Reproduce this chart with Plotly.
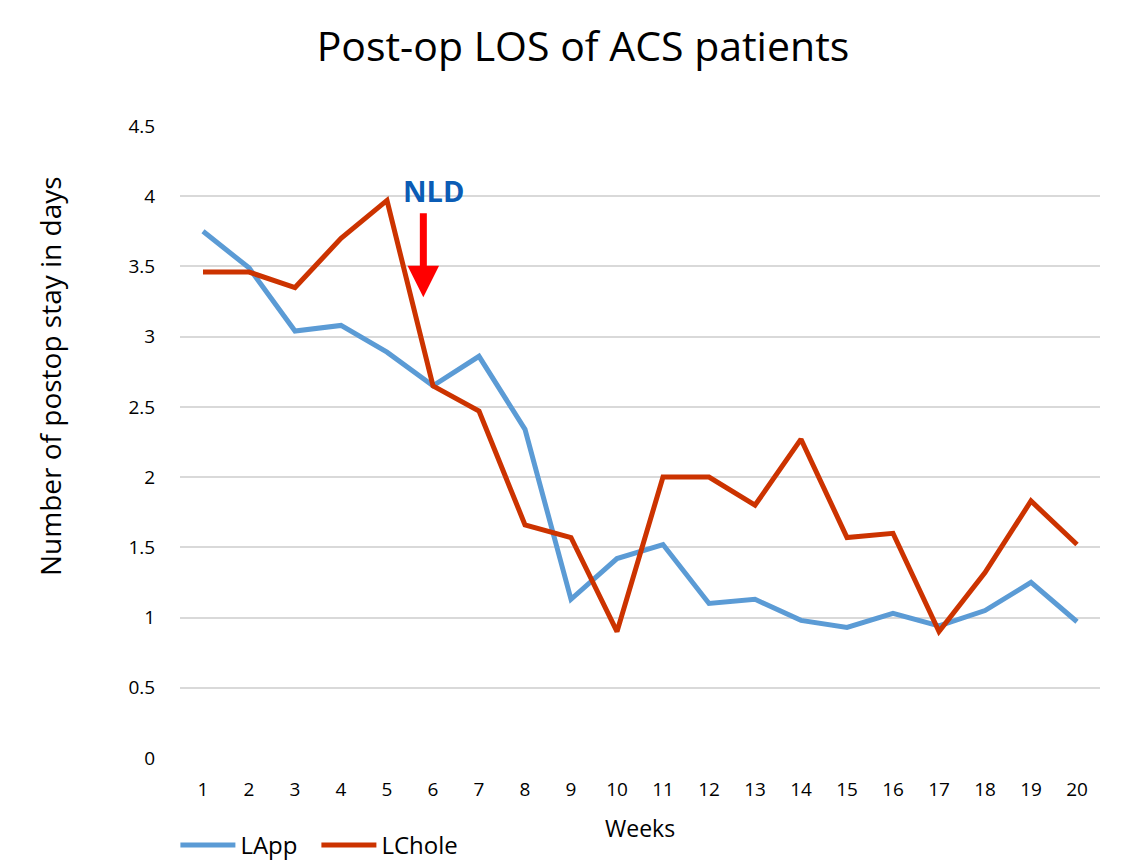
import plotly.graph_objects as go

weeks = list(range(1, 21))
week_labels = [str(w) for w in weeks]
lapp = [3.75, 3.49, 3.04, 3.08, 2.89, 2.65, 2.86, 2.34, 1.13, 1.42,
        1.52, 1.10, 1.13, 0.98, 0.93, 1.03, 0.94, 1.05, 1.25, 0.97]
lchole = [3.46, 3.46, 3.35, 3.70, 3.97, 2.65, 2.47, 1.66, 1.57, 0.90,
          2.00, 2.00, 1.80, 2.27, 1.57, 1.60, 0.90, 1.32, 1.83, 1.52]

FONT = "Open Sans"

fig = go.Figure()
fig.add_trace(go.Scatter(x=weeks, y=lapp, mode="lines", name="LApp",
                         line=dict(color="#5B9BD5", width=5)))
fig.add_trace(go.Scatter(x=weeks, y=lchole, mode="lines", name="LChole",
                         line=dict(color="#CC3300", width=5)))

# NLD arrow + label
fig.add_annotation(x=5.79, y=3.28, ax=5.79, ay=3.89, xref="x", yref="y",
                   axref="x", ayref="y", text="", showarrow=True,
                   arrowhead=2, arrowsize=0.9, arrowwidth=7, arrowcolor="#FF0000")
fig.add_annotation(x=6.0, y=4.04, xref="x", yref="y", text="<b>NLD</b>",
                   showarrow=False, font=dict(family=FONT, size=29, color="#0B5CB5"))

# axis titles
fig.add_annotation(x=-0.1413, y=0.6044, xref="paper", yref="paper",
                   text="Number of postop stay in days", textangle=-90,
                   showarrow=False, xanchor="center", yanchor="middle",
                   font=dict(family=FONT, size=28, color="#000000"))
fig.add_annotation(x=0.5, y=-0.1108, xref="paper", yref="paper",
                   text="Weeks", showarrow=False, xanchor="center", yanchor="middle",
                   font=dict(family=FONT, size=23, color="#000000"))

fig.update_layout(
    width=1123, height=860,
    paper_bgcolor="white", plot_bgcolor="white",
    margin=dict(l=172, r=31, t=118, b=110, autoexpand=False),
    title=dict(text="Post-op LOS of ACS patients", x=0.512, xanchor="center",
               y=0.9547, yanchor="middle",
               font=dict(family=FONT, size=41, color="#000000")),
    font=dict(family=FONT, color="#000000"),
    showlegend=True,
    legend=dict(orientation="h", x=-0.005, xanchor="left",
                yref="container", y=0.0, yanchor="bottom",
                font=dict(family=FONT, size=24, color="#000000"),
                itemwidth=55, entrywidth=71, entrywidthmode="pixels",
                traceorder="normal"),
    xaxis=dict(range=[0.5, 20.5], tickmode="array", tickvals=weeks,
               ticktext=week_labels, showgrid=False, zeroline=False,
               showline=False, ticks="outside", ticklen=14, automargin=False,
               tickcolor="rgba(0,0,0,0)",
               tickfont=dict(family=FONT, size=19, color="#000000")),
    yaxis=dict(range=[0, 4.5], tickmode="array",
               tickvals=[0, 0.5, 1, 1.5, 2, 2.5, 3, 3.5, 4, 4.5],
               ticktext=["0", "0.5", "1", "1.5", "2", "2.5", "3", "3.5", "4", "4.5"],
               showgrid=True, gridcolor="#D9D9D9", gridwidth=1.5, automargin=False,
               zeroline=False, showline=False, ticks="outside", ticklen=20,
               tickcolor="rgba(0,0,0,0)",
               tickfont=dict(family=FONT, size=19, color="#000000")),
)

fig.write_html("out.html")
